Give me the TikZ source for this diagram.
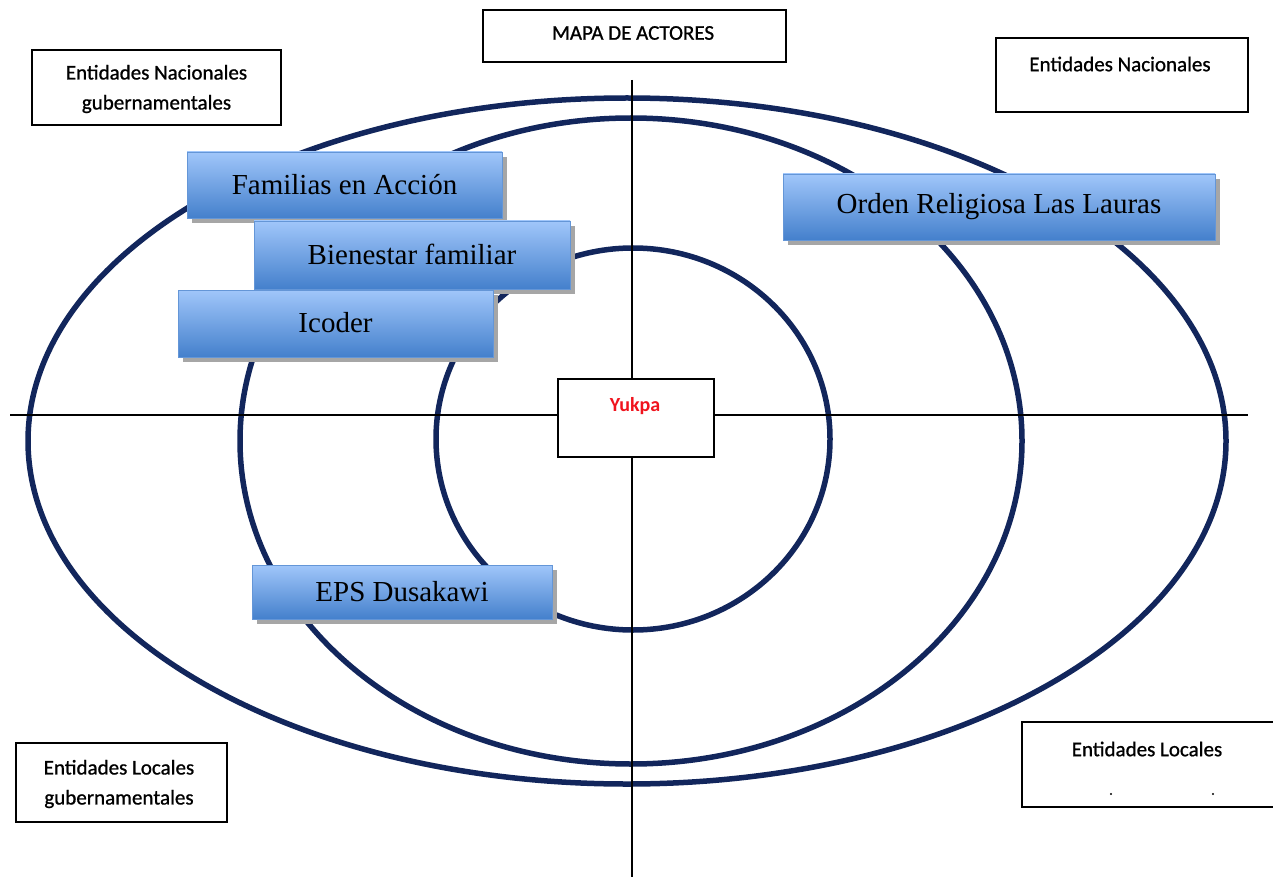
\documentclass[tikz,border=0pt]{standalone}
\usepackage{fontspec}
\setmainfont{Liberation Serif}
\newfontfamily\labfont[FakeBold=0.9]{Carlito}
\newfontfamily\yukfont{Carlito}
\usetikzlibrary{shadows}
\definecolor{ringc}{RGB}{18,38,92}
\definecolor{bluetop}{RGB}{160,198,250}
\definecolor{bluebot}{RGB}{68,128,204}
\definecolor{blueedge}{RGB}{100,150,215}
\definecolor{yred}{RGB}{240,20,30}
\tikzset{
  ring/.style={draw=ringc,line width=5.5pt},
  axis/.style={draw=black,line width=1.8pt},
  whitebox/.style={draw=black,line width=1.2pt,fill=white,inner sep=0pt},
  actor/.style={draw=blueedge,line width=0.8pt,top color=bluetop,bottom color=bluebot,
    inner sep=0pt,font=\fontsize{29}{33}\selectfont,
    drop shadow={shadow xshift=5pt,shadow yshift=-5pt,fill=black!35,opacity=1}},
  lab/.style={font=\labfont\fontsize{21}{30}\selectfont,align=center,inner sep=0pt}
}
\begin{document}
\begin{tikzpicture}[x=1pt,y=-1pt]
\useasboundingbox (0,0) rectangle (1273,877);
% rings
\draw[ring] (627,441) ellipse [x radius=599pt, y radius=343pt];
\draw[ring] (631,441) ellipse [x radius=391pt, y radius=323pt];
\draw[ring] (633,439) ellipse [x radius=197pt, y radius=191pt];
% axes
\coordinate (hl) at (10,415);
\coordinate (hr) at (1248,415);
\coordinate (vt) at (632,80);
\coordinate (vb) at (632,877);
\draw[axis] (hl) -- (hr);
\draw[axis] (vt) -- (vb);
% centre
\node[whitebox,minimum width=156pt,minimum height=78pt] (yuk) at (636,418) {};
\node[lab,text=yred,font=\yukfont\bfseries\fontsize{20}{24}\selectfont] (yukt) at (635,406) {Yukpa};
% title and corner boxes
\node[whitebox,minimum width=303pt,minimum height=52pt] (title) at (634.5,36) {};
\node[lab] (titlet) at (633,33) {MAPA DE ACTORES};
\node[whitebox,minimum width=249pt,minimum height=75pt] (ngb) at (156.5,87.5) {};
\node[lab] (ngbt) at (156.5,89) {Entidades Nacionales\\gubernamentales};
\node[whitebox,minimum width=252pt,minimum height=74pt] (nac) at (1122,75) {};
\node[lab] (nact) at (1120,64) {Entidades Nacionales};
\node[whitebox,minimum width=211pt,minimum height=79pt] (lgb) at (121.5,782.5) {};
\node[lab] (lgbt) at (119,784) {Entidades Locales\\gubernamentales};
\node[whitebox,minimum width=252pt,minimum height=85pt] (loc) at (1148,764.5) {};
\node[lab] (loct) at (1147,749) {Entidades Locales};
\fill (1111,794) circle (1.1pt);
\fill (1213,794) circle (1.1pt);
% actors
\node[actor,minimum width=315pt,minimum height=66pt] (fam) at (344.5,185) {\raisebox{2pt}{Familias en Acción}};
\node[actor,minimum width=316pt,minimum height=68pt] (bien) at (412,255) {\raisebox{2pt}{Bienestar familiar}};
\node[actor,minimum width=315pt,minimum height=67pt] (ico) at (335.5,323.5) {\raisebox{2pt}{Icoder}};
\node[actor,minimum width=432pt,minimum height=66pt] (ord) at (999,207) {\raisebox{2pt}{Orden Religiosa Las Lauras}};
\node[actor,minimum width=300pt,minimum height=54pt] (eps) at (402,592) {\raisebox{2pt}{EPS Dusakawi}};
\end{tikzpicture}
\end{document}
